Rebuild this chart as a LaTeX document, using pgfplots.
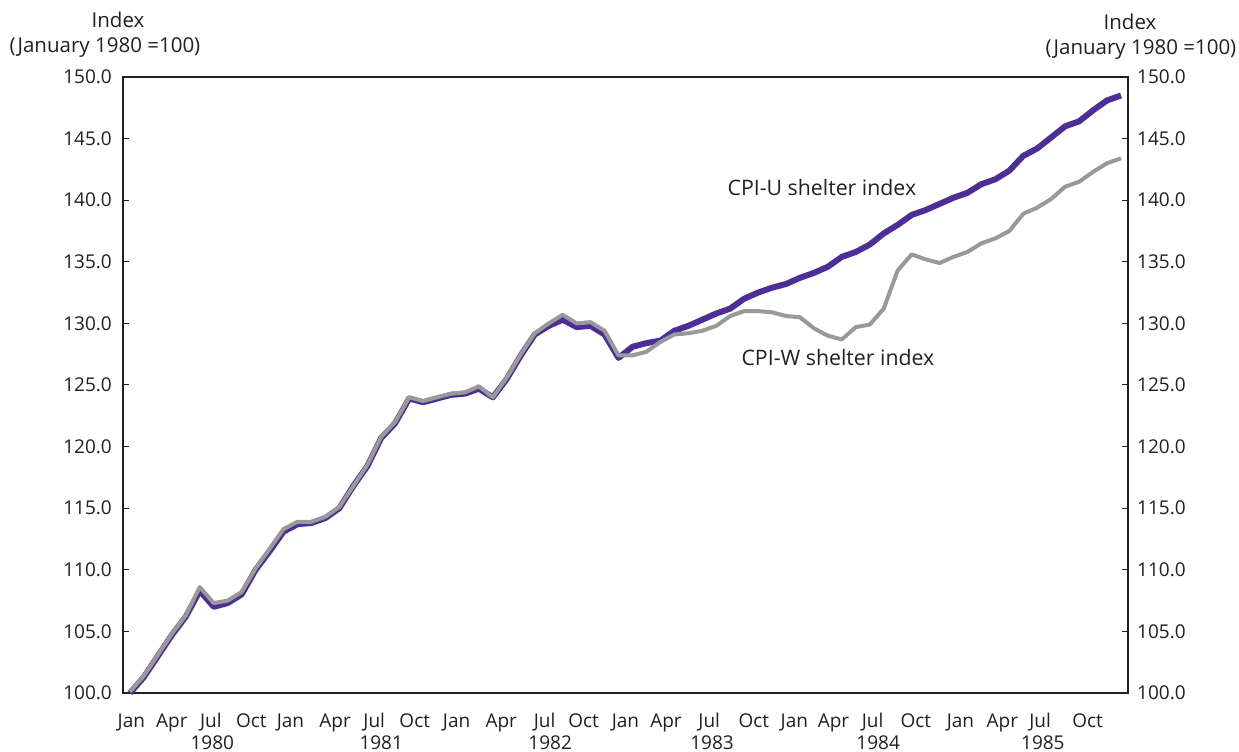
\documentclass[border=0pt]{standalone}
\usepackage{fontspec}
\setmainfont{Open Sans}
\usepackage{pgfplots}
\usepackage{pgfplotstable}
\pgfplotsset{compat=1.18}
\definecolor{cpiu}{RGB}{77,45,150}
\definecolor{cpiw}{RGB}{153,153,153}
\definecolor{txt}{RGB}{35,31,32}
\newcommand{\f}{\fontsize{19bp}{22bp}\selectfont}
\newcommand{\fh}{\fontsize{20.5bp}{24bp}\selectfont}
\newcommand{\fa}{\fontsize{21.3bp}{24bp}\selectfont}

\pgfplotstableread{
m u w
0 100.0 100.1
1 101.3 101.4
2 103.0 103.1
3 104.7 104.8
4 106.2 106.3
5 108.3 108.6
6 107.0 107.3
7 107.3 107.5
8 108.0 108.2
9 110.0 110.1
10 111.5 111.7
11 113.1 113.3
12 113.7 113.9
13 113.8 113.9
14 114.2 114.3
15 115.0 115.1
16 116.8 116.8
17 118.4 118.5
18 120.7 120.8
19 121.9 122.0
20 123.9 124.0
21 123.6 123.7
22 123.9 124.0
23 124.2 124.3
24 124.3 124.4
25 124.7 124.9
26 124.0 124.0
27 125.5 125.6
28 127.4 127.5
29 129.1 129.2
30 129.8 130.0
31 130.3 130.7
32 129.7 130.0
33 129.8 130.1
34 129.1 129.4
35 127.2 127.4
36 128.1 127.4
37 128.4 127.7
38 128.6 128.5
39 129.4 129.1
40 129.8 129.2
41 130.3 129.4
42 130.8 129.8
43 131.2 130.6
44 132.0 131.0
45 132.5 131.0
46 132.9 130.9
47 133.2 130.6
48 133.7 130.5
49 134.1 129.6
50 134.6 129.0
51 135.4 128.7
52 135.8 129.7
53 136.4 129.9
54 137.3 131.2
55 138.0 134.3
56 138.8 135.6
57 139.2 135.2
58 139.7 134.9
59 140.2 135.4
60 140.6 135.8
61 141.3 136.5
62 141.7 136.9
63 142.4 137.5
64 143.6 138.9
65 144.2 139.4
66 145.1 140.1
67 146.0 141.1
68 146.4 141.5
69 147.3 142.3
70 148.1 143.0
71 148.5 143.4
}\data

\begin{document}
\begin{tikzpicture}[font=\f, text=txt]
\begin{axis}[
  at={(0,0)}, anchor=south west,
  scale only axis, width=1005bp, height=616bp,
  xmin=-0.5, xmax=71.5, ymin=100, ymax=150,
  axis line style={draw=txt, line width=1.1bp},
  xtick={0.1,3.0,5.8,8.7,11.5,14.7,17.5,20.4,23.4,26.6,29.7,32.5,35.5,38.4,41.5,44.7,47.6,50.4,53.2,56.3,59.5,62.5,65.2,68.6},
  xticklabels={Jan,Apr,Jul,Oct,Jan,Apr,Jul,Oct,Jan,Apr,Jul,Oct,Jan,Apr,Jul,Oct,Jan,Apr,Jul,Oct,Jan,Apr,Jul,Oct},
  minor xtick={2.5,5.5,...,68.5},
  xtick pos=left,
  ytick={100,105,...,150},
  ytick pos=both,
  tick align=inside,
  major tick length=6bp,
  minor tick length=6bp,
  xtick style={draw=none},
  minor tick style={draw=txt, line width=1bp},
  ytick style={draw=txt, line width=1bp},
  tick label style={font=\f, text=txt},
  yticklabel style={anchor=east, inner sep=0pt, xshift=-11bp,
    /pgf/number format/fixed, /pgf/number format/fixed zerofill, /pgf/number format/precision=1},
  xticklabel style={anchor=base, inner sep=0pt, yshift=-34bp},
  /pgf/number format/assume math mode=true,
  extra x ticks={5.9,18,30.1,41.7,53.6,65.4},
  extra x tick labels={1980,1981,1982,1983,1984,1985},
  extra x tick style={major tick length=0pt, tick style={draw=none}, xticklabel style={yshift=-22.5bp}},
  clip=false,
]
\addplot[cpiu, line width=6bp, line join=round] table[x=m,y=u]{\data};
\addplot[cpiw, line width=4bp, line join=round] table[x=m,y=w]{\data};
\node[anchor=base west, inner sep=0pt, font=\fa, text=txt] at (axis cs:42.8,140.4) {CPI-U shelter index};
\node[anchor=base west, inner sep=0pt, font=\fa, text=txt] at (axis cs:43.8,126.55) {CPI-W shelter index};
\end{axis}
\begin{axis}[
  at={(0,0)}, anchor=south west,
  scale only axis, width=1005bp, height=616bp,
  xmin=-0.5, xmax=71.5, ymin=100, ymax=150,
  hide x axis,
  axis y line*=right,
  y axis line style={draw=none},
  ytick={100,105,...,150},
  ytick style={draw=none},
  tick label style={font=\f, text=txt},
  yticklabel style={anchor=west, inner sep=0pt, xshift=9bp,
    /pgf/number format/fixed, /pgf/number format/fixed zerofill, /pgf/number format/precision=1},
  /pgf/number format/assume math mode=true,
]
\end{axis}
\node[anchor=base, inner sep=0pt, font=\fh] at (-5bp,665bp) {Index};
\node[anchor=base, inner sep=0pt, font=\fh] at (-18bp,640bp) {(January 1980 =100)};
\node[anchor=base, inner sep=0pt, font=\fh] at (1007bp,663bp) {Index};
\node[anchor=base, inner sep=0pt, font=\fh] at (1018bp,638bp) {(January 1980 =100)};
\pgfresetboundingbox
\useasboundingbox (-123bp,-59bp) rectangle (1116bp,693bp);
\end{tikzpicture}
\end{document}
